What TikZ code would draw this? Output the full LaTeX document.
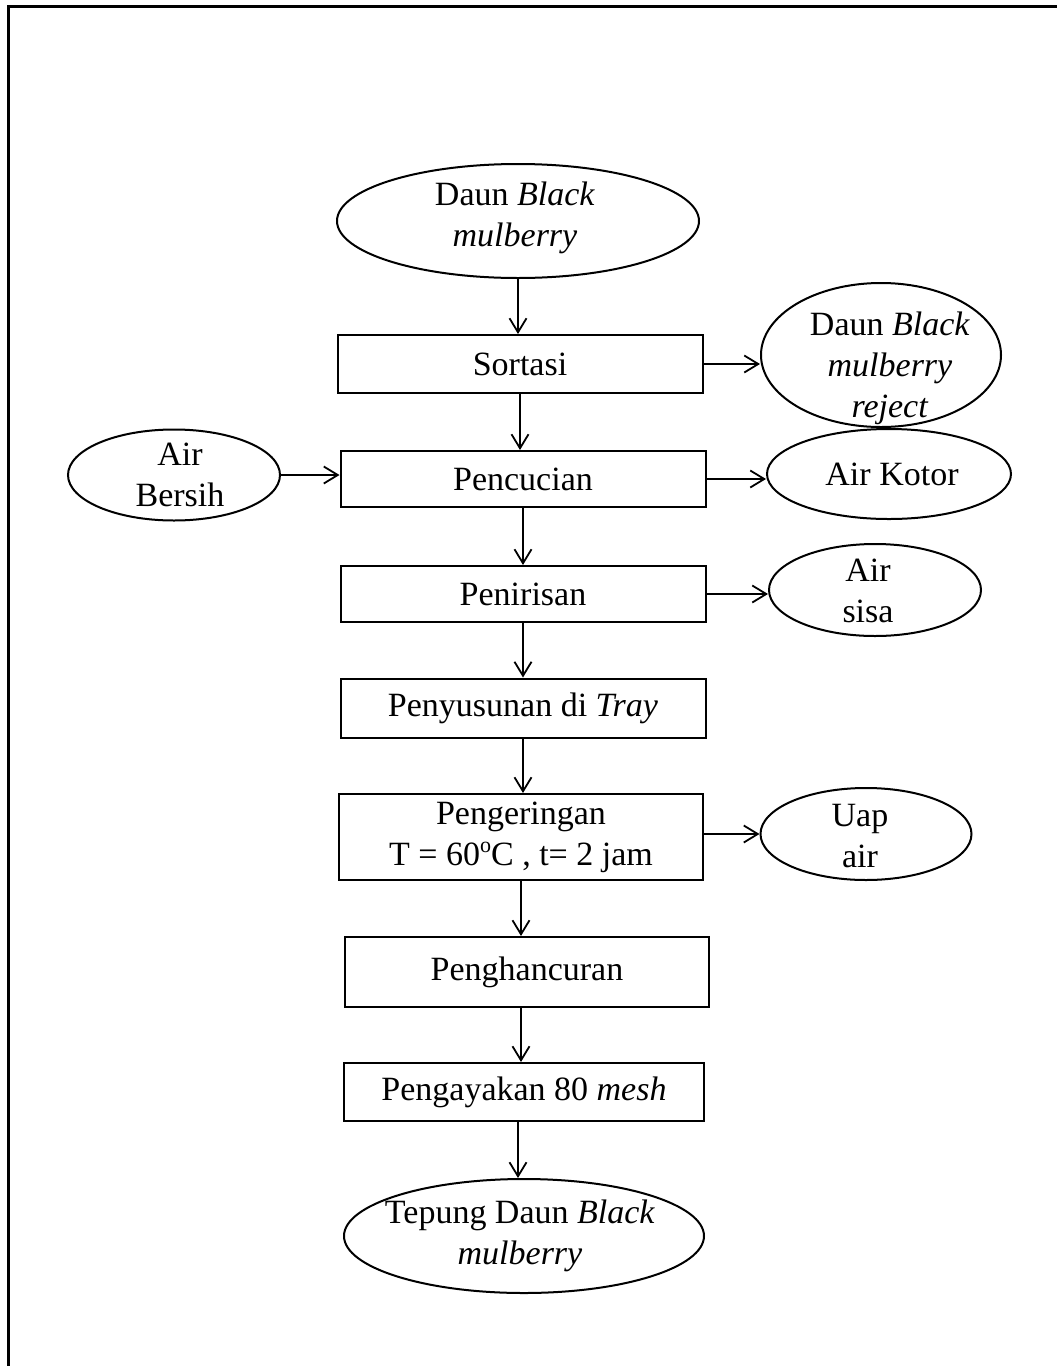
\documentclass[tikz,border=0pt]{standalone}
\usepackage{fontspec}
\setmainfont{Liberation Serif}
\usetikzlibrary{shapes.geometric,arrows.meta}
\newcommand{\degsup}{\raisebox{0.8ex}{\fontsize{22}{22}\selectfont o}}
\begin{document}
\begin{tikzpicture}[x=1pt,y=-1pt,
  stepbox/.style={draw, line width=2pt, rectangle, inner sep=0pt, font=\fontsize{34}{41}\selectfont, align=center},
  oval/.style={draw, line width=2pt, ellipse, inner sep=0pt},
  txt/.style={inner sep=0pt, font=\fontsize{34}{41}\selectfont, align=center},
  arr/.style={line width=1.8pt, -{Straight Barb[length=14pt,width=17pt,line width=1.8pt]}},
  frame/.style={line width=2.8pt}]
\useasboundingbox (0,0) rectangle (1057,1366);
% frame
\draw[frame] (8.5,1370) -- (8.5,6.5) -- (1060,6.5);

% process boxes
\node[stepbox, minimum width=365pt, minimum height=58pt] (sort) at (520,364) {Sortasi};
\node[stepbox, minimum width=365pt, minimum height=56pt] (cuci) at (523,479) {Pencucian};
\node[stepbox, minimum width=365pt, minimum height=56pt] (tiris) at (523,594) {Penirisan};
\node[stepbox, minimum width=365pt, minimum height=59pt] (susun) at (523,708) {Penyusunan di \textit{Tray}};
\node[stepbox, minimum width=364pt, minimum height=86pt] (kering) at (521,837) {Pengeringan\\T = 60\degsup C , t= 2 jam};
\node[stepbox, minimum width=364pt, minimum height=70pt] (hancur) at (527,972) {Penghancuran};
\node[stepbox, minimum width=360pt, minimum height=58pt] (ayak) at (524,1092) {Pengayakan 80 \textit{mesh}};

% ellipses
\node[oval, minimum width=362pt, minimum height=114pt] (daun) at (518,221) {};
\node[txt] (dauntxt) at (515,218) {Daun \textit{Black}\\\textit{mulberry}};
\node[oval, minimum width=240pt, minimum height=144pt] (reject) at (881,355) {};
\node[txt] (rejecttxt) at (890,368) {Daun \textit{Black}\\\textit{mulberry}\\\textit{reject}};
\node[oval, minimum width=212pt, minimum height=91pt] (bersih) at (174,475) {};
\node[txt] (bersihtxt) at (180,475) {Air\\Bersih};
\node[oval, minimum width=244pt, minimum height=90pt] (kotor) at (889,474) {};
\node[txt] (kotortxt) at (892,474) {Air Kotor};
\node[oval, minimum width=212pt, minimum height=92pt] (sisa) at (875,590) {};
\node[txt] (sisatxt) at (868,591) {Air\\sisa};
\node[oval, minimum width=211pt, minimum height=92pt] (uap) at (866,834) {};
\node[txt] (uaptxt) at (860,836) {Uap\\air};
\node[oval, minimum width=360pt, minimum height=114pt] (tepung) at (524,1236) {};
\node[txt] (tepungtxt) at (520,1236) {Tepung Daun \textit{Black}\\\textit{mulberry}};

% vertical flow
\draw[arr] (daun.south) -- (daun.south |- sort.north);
\draw[arr] (sort.south) -- (sort.south |- cuci.north);
\draw[arr] (cuci.south) -- (cuci.south |- tiris.north);
\draw[arr] (tiris.south) -- (tiris.south |- susun.north);
\draw[arr] (susun.south) -- (susun.south |- kering.north);
\draw[arr] (kering.south) -- (kering.south |- hancur.north);
\draw[arr] ([xshift=-6pt]hancur.south) -- ([xshift=-6pt]hancur.south |- ayak.north);
\draw[arr] ([xshift=-6pt]ayak.south) -- ([xshift=-6pt]ayak.south |- tepung.north);

% side flows
\draw[arr] (sort.east) -- (sort.east -| reject.west);
\draw[arr] (bersih.east) -- (bersih.east -| cuci.west);
\draw[arr] (cuci.east) -- (cuci.east -| kotor.west);
\draw[arr] (tiris.east) -- (tiris.east -| sisa.west);
\draw[arr] ([yshift=3pt]kering.east) -- ([yshift=3pt]kering.east -| uap.west);
\end{tikzpicture}
\end{document}
